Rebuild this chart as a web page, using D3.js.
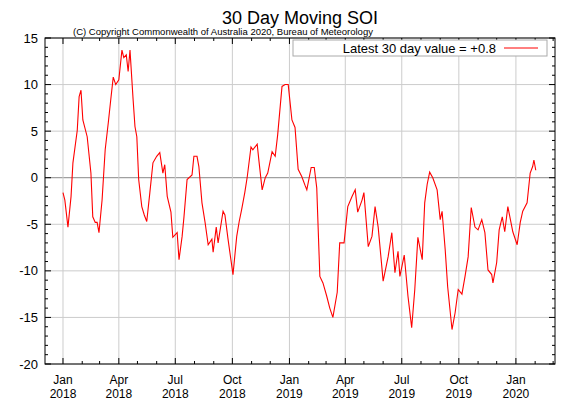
<!DOCTYPE html>
<html><head><meta charset="utf-8">
<script src="https://cdn.jsdelivr.net/npm/d3@7"></script>
<style>body{margin:0;background:#fff}text{font-family:"Liberation Sans",Arial,sans-serif}</style>
</head><body><svg id="c" width="576" height="403"></svg>
<script>
// days since 2018-01-01 and 30-day SOI value
const days = [0,3,8,13,16,23,26,29,32,39,45,48,52,55,58,63,68,73,77,81,85,90,95,98,102,105,108,113,116,119,122,127,131,135,140,145,151,156,161,164,168,174,177,184,187,192,195,200,208,211,216,219,224,229,234,240,242,247,250,258,261,266,274,280,284,
  288,293,297,303,306,313,316,321,326,330,337,342,346,353,358,363,369,374,379,385,390,393,400,405,409,414,419,425,430,435,442,446,453,459,466,471,475,482,485,492,498,503,508,516,524,530,535,540,543,550,556,562,567,
  572,579,583,587,591,596,603,608,611,616,620,627,632,637,643,648,653,658,664,669,675,680,685,691,693,699,703,708,712,717,722,725,732,737,741,748,753,757,759,762];
const soi = [-1.6,-2.4,-5.3,-2,1.6,5.1,8.7,9.4,6.2,4.4,0.5,-4.2,-4.8,-4.8,-5.9,-2.4,3,5.9,8.4,10.8,10,10.5,13.7,12.9,13.2,11.4,13.7,8.4,5.5,4.4,-0.2,-3.1,-4,-4.7,-1.6,1.6,2.3,2.7,0.5,1.4,-2,-3.7,-6.4,-5.9,-8.8,-6.3,-4.2,-0.2,0.3,2.3,2.3,1.2,-2.7,-4.8,-7.2,-6.6,-8,-5.3,-7,-3.6,-4,-6.6,-10.4,-6.3,-4.7,
  -3.4,-1.6,0.1,3.3,3,3.6,1.7,-1.3,0,0.5,2.8,2.3,4.6,9.8,10,10,6.2,5.4,0.9,0.1,-0.8,-1.3,1.1,1.1,-1.1,-10.6,-11.3,-12.7,-14,-15,-12.3,-7,-7,-3.1,-2,-1.3,-3.7,-2.4,-1.6,-7.4,-6.3,-3.1,-5.3,-11.1,-8.5,-5.9,-10.2,-7.9,-10.6,-8.3,-12.7,-16.1,-12,
  -6.4,-8.8,-2.7,-0.7,0.6,0,-1.3,-4.5,-3.6,-7.7,-11.7,-16.3,-14.5,-12,-12.5,-10.6,-8.5,-3.2,-5.3,-5.6,-4.5,-5.9,-9.9,-10.4,-11.3,-9.1,-5.6,-4.2,-5.8,-3.1,-4.8,-5.8,-7.2,-4.8,-3.6,-2.7,0.5,1.2,1.9,0.8];
const yTicks = [-20,-15,-10,-5,0,5,10,15];
const xTickMonths = ['2018-01-01','2018-04-01','2018-07-01','2018-10-01','2019-01-01','2019-04-01','2019-07-01','2019-10-01','2020-01-01'];

const svg = d3.select('#c');
const L = 45, R = 555, T = 38, B = 364;
const t0 = Date.UTC(2018, 0, 1), DAY = 864e5;
const x = d3.scaleUtc().domain([new Date(t0 - 29 * DAY), new Date(t0 + 793 * DAY)]).range([L, R]);
const y = d3.scaleLinear().domain([-20, 15]).range([B, T]);
const fmtM = d3.utcFormat('%b'), fmtY = d3.utcFormat('%Y');
const xt = xTickMonths.map(s => new Date(s + 'T00:00:00Z'));

// grid
svg.append('g').selectAll('line').data(yTicks).join('line')
  .attr('x1', L).attr('x2', R).attr('y1', y).attr('y2', y)
  .attr('stroke', d => d === 0 ? '#888' : '#ccc').attr('stroke-width', 1);
svg.append('g').selectAll('line').data(xt).join('line')
  .attr('x1', x).attr('x2', x).attr('y1', T).attr('y2', B)
  .attr('stroke', '#ccc');

// minor ticks on y (every 1), both sides
const yMinor = d3.range(-20, 15.01, 1);
[L, R].forEach((px, i) => {
  svg.append('g').selectAll('line').data(yMinor).join('line')
    .attr('x1', px).attr('y1', y).attr('y2', y)
    .attr('x2', d => px + (i ? -1 : 1) * (d % 5 === 0 ? 6 : 3))
    .attr('stroke', '#000');
});
// monthly minor ticks on x
const xMinor = d3.utcMonth.range(x.domain()[0], x.domain()[1]);
[B, T].forEach((py, i) => {
  svg.append('g').selectAll('line').data(xMinor).join('line')
    .attr('x1', x).attr('x2', x).attr('y1', py)
    .attr('y2', d => py + (i ? 1 : -1) * (d.getUTCMonth() % 3 === 0 ? 6 : 3))
    .attr('stroke', '#000');
});

svg.append('rect').attr('x', L).attr('y', T).attr('width', R - L).attr('height', B - T)
  .attr('fill', 'none').attr('stroke', '#000');

// y labels
svg.append('g').selectAll('text').data(yTicks).join('text')
  .attr('x', L - 7).attr('y', d => y(d) + 4.5).attr('text-anchor', 'end')
  .attr('font-size', 13).text(d => d);
// x labels
const xl = svg.append('g').selectAll('g').data(xt).join('g');
xl.append('text').attr('x', x).attr('y', 384).attr('text-anchor', 'middle').attr('font-size', 12).text(fmtM);
xl.append('text').attr('x', x).attr('y', 398).attr('text-anchor', 'middle').attr('font-size', 12).text(fmtY);

// series
const line = d3.line().x((d, i) => x(new Date(t0 + days[i] * DAY))).y(d => y(d));
svg.append('path').datum(soi).attr('d', line).attr('fill', 'none').attr('stroke', '#f00').attr('stroke-width', 1.1);

// titles
svg.append('text').attr('x', 300).attr('y', 24).attr('text-anchor', 'middle').attr('font-size', 18).text('30 Day Moving SOI');
svg.append('text').attr('x', 73).attr('y', 35).attr('font-size', 9.5).text('(C) Copyright Commonwealth of Australia 2020, Bureau of Meteorology');

// legend
svg.append('rect').attr('x', 293).attr('y', 40).attr('width', 254).attr('height', 16).attr('fill', '#fff').attr('stroke', '#aaa');
svg.append('text').attr('x', 496).attr('y', 53).attr('text-anchor', 'end').attr('font-size', 13)
  .text('Latest 30 day value = ' + (soi[soi.length - 1] >= 0 ? '+' : '') + soi[soi.length - 1]);
svg.append('line').attr('x1', 504).attr('x2', 538).attr('y1', 48).attr('y2', 48).attr('stroke', '#f00');
</script></body></html>
